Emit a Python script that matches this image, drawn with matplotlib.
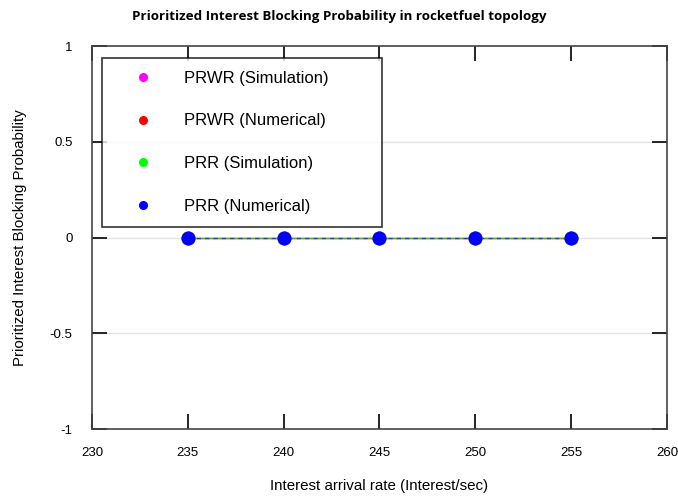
"""
Prioritized interest blocking probability, rocketfuel topology
"""

import matplotlib
matplotlib.use("Agg")
import matplotlib.pyplot as plt
from matplotlib.lines import Line2D

RATES = [235, 240, 245, 250, 255]
PRWR_SIM = [0, 0, 0, 0, 0]
PRWR_NUM = [0, 0, 0, 0, 0]
PRR_SIM = [0, 0, 0, 0, 0]
PRR_NUM = [0, 0, 0, 0, 0]

SERIES_NAMES = ["PRWR (Simulation)", "PRWR (Numerical)", "PRR (Simulation)", "PRR (Numerical)"]
SERIES_COLORS = ["#ff00ff", "#ff0000", "#00ff00", "#0000ff"]
SERIES_STYLES = ["-", "-", "-", (0, (3, 3))]

X_TICKS = [230, 235, 240, 245, 250, 255, 260]
Y_TICKS = [-1, -0.5, 0, 0.5, 1]
Y_TICK_LABELS = ["-1", "-0.5", "0", "0.5", "1"]

plt.rcParams["font.family"] = ["Liberation Sans", "DejaVu Sans"]

fig = plt.figure(figsize=(6.78, 4.97), dpi=100)
ax = fig.add_axes([0.1357, 0.1368, 0.848, 0.7706])

series = [PRWR_SIM, PRWR_NUM, PRR_SIM, PRR_NUM]
for values, color, style in zip(series, SERIES_COLORS, SERIES_STYLES):
    ax.plot(RATES, values, color=color, lw=1, ls=style, alpha=0.6, zorder=3)
for values, color in zip(series, SERIES_COLORS):
    ax.plot(RATES, values, ls="none", marker="o", ms=9, color=color, zorder=4)

ax.set_xlim(230, 260)
ax.set_ylim(-1, 1)
ax.set_xticks(X_TICKS)
ax.set_yticks(Y_TICKS)
ax.set_yticklabels(Y_TICK_LABELS)
ax.tick_params(direction="in", length=11, width=1.2, top=True, right=True,
               labelsize=9.5, colors="black")
ax.tick_params(axis="x", pad=13)
ax.tick_params(axis="y", pad=14)
for spine in ax.spines.values():
    spine.set_color("#444444")
    spine.set_linewidth(1.2)

for y in [-0.5, 0, 0.5]:
    ax.axhline(y, color="#e3e3e3", lw=1, zorder=1)

ax.set_xlabel("Interest arrival rate (Interest/sec)", fontsize=10.9, labelpad=14)
ax.set_ylabel("Prioritized Interest Blocking Probability", fontsize=10.8, labelpad=16)
fig.suptitle("Prioritized Interest Blocking Probability in rocketfuel topology",
             fontsize=9.65, fontweight="bold", family="Open Sans", y=0.98)

handles = [Line2D([], [], ls="none", marker="o", ms=5.5, color=c) for c in SERIES_COLORS]
leg = ax.legend(handles, SERIES_NAMES, loc="upper left", mode="expand",
                bbox_to_anchor=(102 / 678, 1 - 226 / 497, 280 / 678, 168 / 497),
                bbox_transform=fig.transFigure,
                borderaxespad=0, frameon=True, fancybox=False, fontsize=12,
                labelspacing=1.66, handletextpad=0.78, borderpad=0.77,
                handlelength=3.36)
leg.get_frame().set_edgecolor("black")
leg.get_frame().set_linewidth(1.2)
leg.set_zorder(5)

fig.savefig("out.png", dpi=100)
